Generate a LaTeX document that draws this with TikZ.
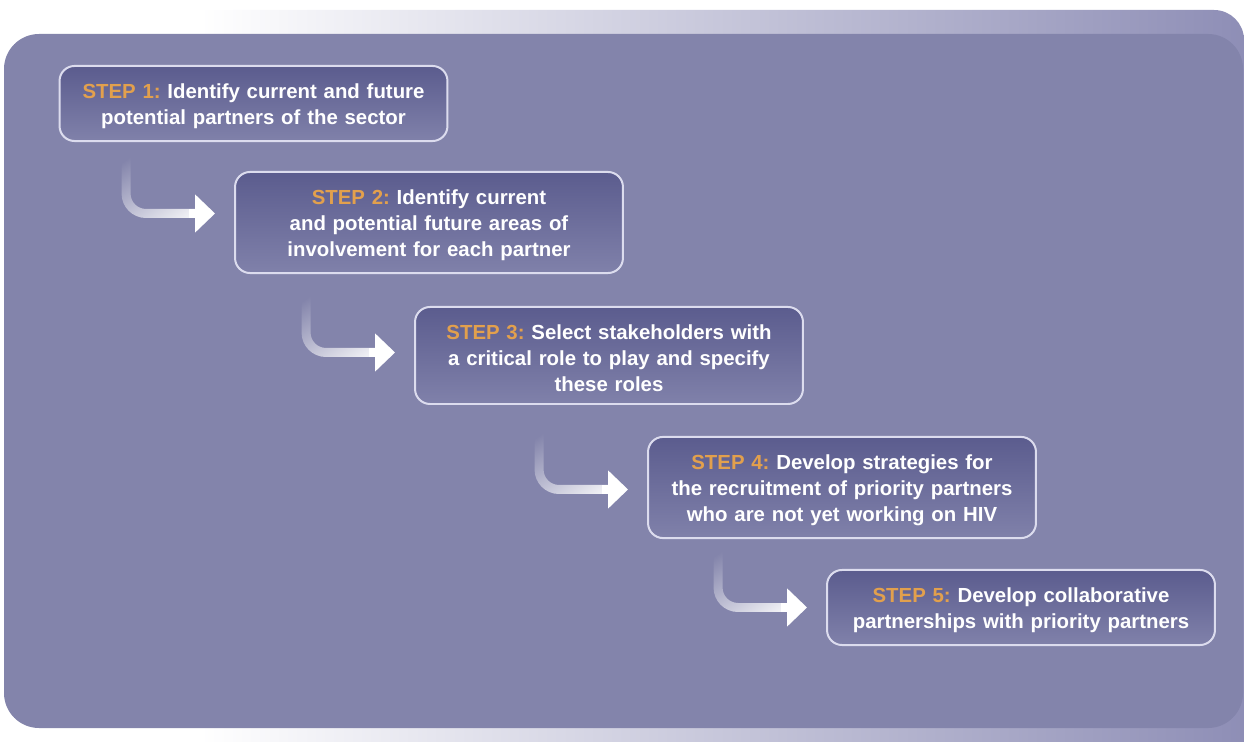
\documentclass[tikz,border=0pt]{standalone}
\usepackage{fontspec}
\setmainfont{Liberation Sans}
\usetikzlibrary{arrows.meta,calc,fadings}

\definecolor{bgpurple}{RGB}{131,132,171}
\definecolor{backpurple}{RGB}{136,136,178}
\definecolor{backmid}{RGB}{208,208,228}
\definecolor{boxtop}{RGB}{91,92,142}
\definecolor{boxbottom}{RGB}{128,129,170}
\definecolor{boxline}{RGB}{220,220,238}
\definecolor{steporange}{RGB}{226,160,77}

\tikzfading[name=arrowfade, top color=transparent!100, bottom color=transparent!0, shading angle=45]

\newcommand{\steplabel}[1]{\rule{0pt}{11.5pt}\textcolor{steporange}{STEP #1:}}

\tikzset{
  stepbox/.style={draw=boxline, line width=0.04cm, rounded corners=0.3cm,
    top color=boxtop, bottom color=boxbottom, text=white,
    text width=7.4cm, align=center, inner xsep=0.18cm, inner ysep=7pt,
    font=\bfseries\fontsize{11.6}{14.8}\selectfont\frenchspacing},
  shaft/.style={draw=white, line width=0.18cm, rounded corners=0.4cm,
    path fading=arrowfade, shorten >=0.74cm},
  head/.style={draw=white, line width=0.18cm, shorten >=0.38cm,
    -{Triangle[length=0.4cm, width=0.74cm]}}
}

\begin{document}
\begin{tikzpicture}[x=0.02cm, y=-0.02cm]
    \useasboundingbox (0,0) rectangle (1244,742);
    \clip (0,0) rectangle (1244,742);

    % Background
    \begin{scope}
      \clip[rounded corners=0.6cm] (-50,10) rectangle (1244,800);
      \shade[left color=white, middle color=backmid, right color=backpurple] (200,10) rectangle (1300,800);
    \end{scope}
    \fill[bgpurple, rounded corners=0.7cm] (4,34) rectangle (1243,728);

    % Steps
    \node[stepbox] (s1) at (253.5,103.5) {\steplabel{1} Identify current and future\\ potential partners of the sector};
    \node[stepbox] (s2) at (429,222.5) {\steplabel{2} Identify current\\ and potential future areas of\\ involvement for each partner};
    \node[stepbox] (s3) at (609,355.5) {\steplabel{3} Select stakeholders with\\ a critical role to play and specify\\ these roles};
    \node[stepbox] (s4) at (842,487.5) {\steplabel{4} Develop strategies for\\ the recruitment of priority partners\\ who are not yet working on HIV};
    \node[stepbox] (s5) at (1021,607.5) {\steplabel{5} Develop collaborative\\ partnerships with priority partners};

    % Connections
    \foreach \i/\j/\dy in {1/2/-9, 2/3/-3, 3/4/2, 4/5/0} {
      \coordinate (a\i) at ($(s\j.west)+(-108,\dy-70)$);
      \coordinate (e\i) at ($(s\j.west)+(0,\dy)$);
      \coordinate (h\i) at ($(s\j.west)+(-45,\dy)$);
      \draw[shaft] (a\i) |- (e\i);
      \draw[head] (h\i) -- (e\i);
    }
\end{tikzpicture}
\end{document}
